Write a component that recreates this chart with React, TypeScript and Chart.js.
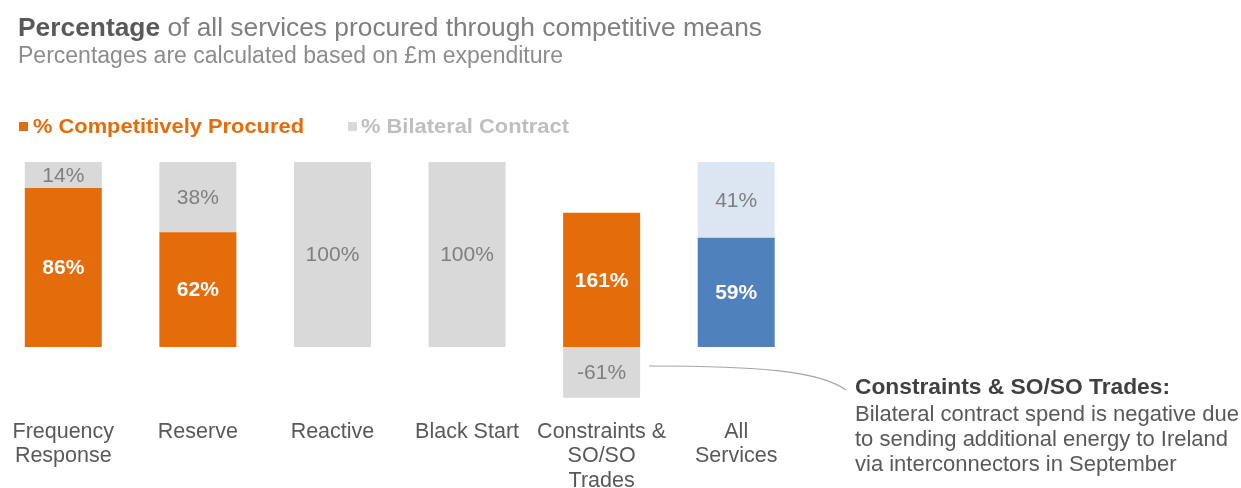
import React, { useEffect, useRef } from 'react';
import { Chart, registerables } from 'chart.js';

Chart.register(...registerables);

// ---- data ----
const categories: string[][] = [
  ['Frequency', 'Response'],
  ['Reserve'],
  ['Reactive'],
  ['Black Start'],
  ['Constraints &', 'SO/SO', 'Trades'],
  ['All', 'Services'],
];
const competitive = [86, 62, 0, 0, 161, 59];
const bilateral = [14, 38, 100, 100, -61, 41];
const compColors = ['#E46C0A', '#E46C0A', '#E46C0A', '#E46C0A', '#E46C0A', '#4F81BD'];
const bilColors = ['#D9D9D9', '#D9D9D9', '#D9D9D9', '#D9D9D9', '#D9D9D9', '#DCE6F2'];

const titleBold = 'Percentage';
const titleRest = ' of all services procured through competitive means';
const subtitle = 'Percentages are calculated based on £m expenditure';
const legendLabels = ['% Competitively Procured', '% Bilateral Contract'];
const noteTitle = 'Constraints & SO/SO Trades:';
const noteLines = [
  'Bilateral contract spend is negative due',
  'to sending additional energy to Ireland',
  'via interconnectors in September',
];

// bars are drawn as shares of the total absolute spend of each category
const share = (v: number, i: number) =>
  (v / (Math.abs(competitive[i]) + Math.abs(bilateral[i]))) * 100;

const DX = 4; // canvas is shifted 4px left of the page
const FONT = '"Liberation Sans", Arial, sans-serif';

function txt(
  ctx: CanvasRenderingContext2D,
  s: string,
  x: number,
  y: number,
  font: string,
  color: string,
  align: CanvasTextAlign = 'left',
  width?: number
) {
  ctx.save();
  ctx.font = font;
  ctx.fillStyle = color;
  ctx.textBaseline = 'middle';
  ctx.textAlign = align;
  if (width) {
    const m = ctx.measureText(s).width;
    ctx.translate(x, y);
    ctx.scale(width / m, 1);
    ctx.fillText(s, 0, 0);
  } else {
    ctx.fillText(s, x, y);
  }
  ctx.restore();
}

const decorPlugin = {
  id: 'decor',
  afterDatasetsDraw(chart: any) {
    const ctx: CanvasRenderingContext2D = chart.ctx;
    // value labels in bars
    const sets = [
      { vals: competitive, meta: chart.getDatasetMeta(0), font: `bold 21px ${FONT}`, color: '#FFFFFF' },
      { vals: bilateral, meta: chart.getDatasetMeta(1), font: `21px ${FONT}`, color: '#7F7F7F' },
    ];
    sets.forEach((s) => {
      s.meta.data.forEach((el: any, i: number) => {
        const v = s.vals[i];
        if (!v) return;
        const cy = (el.y + el.base) / 2 + 1;
        txt(ctx, `${v}%`, el.x, cy, s.font, s.color, 'center');
      });
    });

    // category labels
    const xs = chart.scales.x;
    categories.forEach((lines, i) => {
      const cx = xs.getPixelForValue(i);
      lines.forEach((l, k) => {
        txt(ctx, l, cx, 432 + k * 24.5, `21.5px ${FONT}`, '#595959', 'center');
      });
    });

    // title / subtitle
    ctx.save();
    ctx.font = `bold 26px ${FONT}`;
    const bw = ctx.measureText(titleBold).width;
    ctx.font = `26px ${FONT}`;
    const rw = ctx.measureText(titleRest).width;
    ctx.restore();
    const tScale = 744 / (bw + rw);
    ctx.save();
    ctx.translate(18 + DX, 29);
    ctx.scale(tScale, 1);
    txt(ctx, titleBold, 0, 0, `bold 26px ${FONT}`, '#595959');
    txt(ctx, titleRest, bw, 0, `26px ${FONT}`, '#7F7F7F');
    ctx.restore();
    txt(ctx, subtitle, 18 + DX, 57, `23px ${FONT}`, '#8C8C8C', 'left', 545);

    // legend
    ctx.fillStyle = compColors[0];
    ctx.fillRect(19 + DX, 122, 9, 9);
    txt(ctx, legendLabels[0], 33 + DX, 127, `bold 20px ${FONT}`, '#E46C0A', 'left', 271);
    ctx.fillStyle = bilColors[0];
    ctx.fillRect(348 + DX, 122, 9, 9);
    txt(ctx, legendLabels[1], 361 + DX, 127, `bold 20px ${FONT}`, '#BFBFBF', 'left', 208);

    // annotation
    txt(ctx, noteTitle, 855 + DX, 388, `bold 22px ${FONT}`, '#404040', 'left', 315);
    noteLines.forEach((l, k) => {
      txt(ctx, l, 855 + DX, 415 + k * 25, `22px ${FONT}`, '#595959', 'left');
    });

    // connector curve from the negative bar segment
    const el = chart.getDatasetMeta(1).data[4];
    const sx = el.x + el.width / 2 + 9;
    const sy = 366;
    ctx.save();
    ctx.strokeStyle = '#A6A6A6';
    ctx.lineWidth = 1.2;
    ctx.beginPath();
    ctx.moveTo(sx, sy);
    ctx.bezierCurveTo(sx + 110, sy, 820 + DX, 371, 846 + DX, 390);
    ctx.stroke();
    ctx.restore();
  },
};

export default function App() {
  const ref = useRef<HTMLCanvasElement | null>(null);
  useEffect(() => {
    if (!ref.current) return;
    const chart = new Chart(ref.current, {
      type: 'bar',
      data: {
        labels: categories.map((c) => c.join(' ')),
        datasets: [
          {
            label: legendLabels[0],
            data: competitive.map((v, i) => share(v, i)),
            backgroundColor: compColors,
            borderWidth: 0,
          },
          {
            label: legendLabels[1],
            data: bilateral.map((v, i) => share(v, i)),
            backgroundColor: bilColors,
            borderWidth: 0,
          },
        ],
      },
      options: {
        animation: false,
        responsive: false,
        maintainAspectRatio: false,
        layout: { padding: { left: 0, right: 1245 - 807.5, top: 162, bottom: 488 - 421 } },
        datasets: { bar: { barPercentage: 1, categoryPercentage: 0.572 } },
        scales: {
          x: { stacked: true, display: false, offset: true },
          y: { stacked: true, display: false, min: -40, max: 100 },
        },
        plugins: {
          legend: { display: false },
          tooltip: { enabled: false },
          title: { display: false },
        },
      },
      plugins: [decorPlugin],
    });
    return () => chart.destroy();
  }, []);
  return (
    <div style={{ position: 'absolute', left: -DX, top: 0, width: 1245, height: 488, background: '#fff' }}>
      <canvas ref={ref} width={1245} height={488} style={{ display: 'block', width: 1245, height: 488 }} />
    </div>
  );
}
